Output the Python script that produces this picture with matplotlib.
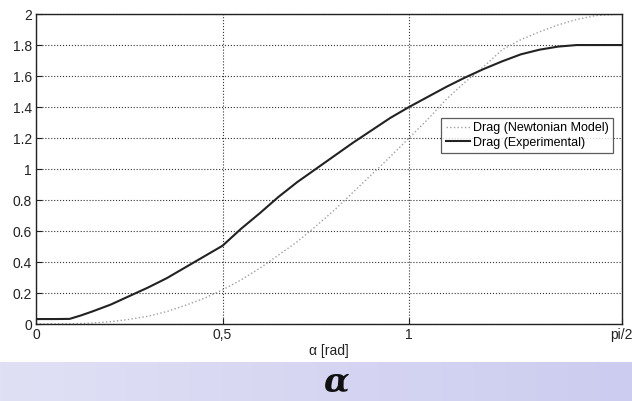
import numpy as np
import matplotlib.pyplot as plt

# values
alpha_newton = [0.0, 0.1, 0.15, 0.2, 0.25, 0.3, 0.35, 0.4, 0.45, 0.5, 0.55, 0.6,
                0.65, 0.7, 0.75, 0.8, 0.85, 0.9, 0.95, 1.0, 1.05, 1.1, 1.15, 1.2,
                1.25, 1.3, 1.35, 1.4, 1.45, 1.5, 1.5708]
drag_newton = [0.0, 0.002, 0.006, 0.015, 0.03, 0.05, 0.08, 0.12, 0.165, 0.22, 0.285, 0.36,
               0.445, 0.53, 0.63, 0.735, 0.85, 0.965, 1.08, 1.2, 1.32, 1.45, 1.56, 1.66,
               1.77, 1.835, 1.885, 1.93, 1.965, 1.99, 2.0]

alpha_exp = [0.0, 0.05, 0.09, 0.12, 0.15, 0.2, 0.25, 0.3, 0.35, 0.4, 0.45, 0.5,
             0.55, 0.6, 0.65, 0.7, 0.75, 0.8, 0.85, 0.9, 0.95, 1.0, 1.05, 1.1,
             1.15, 1.2, 1.25, 1.3, 1.35, 1.4, 1.45, 1.5, 1.5708]
drag_exp = [0.032, 0.032, 0.033, 0.055, 0.08, 0.125, 0.18, 0.235, 0.295, 0.365, 0.435, 0.505,
            0.615, 0.715, 0.82, 0.915, 1.0, 1.085, 1.17, 1.25, 1.33, 1.40, 1.465, 1.53,
            1.59, 1.645, 1.695, 1.74, 1.77, 1.79, 1.80, 1.80, 1.80]

xticks = [0, 0.5, 1, np.pi / 2]
xticklabels = ["0", "0,5", "1", "pi/2"]
yticks = [0, 0.2, 0.4, 0.6, 0.8, 1, 1.2, 1.4, 1.6, 1.8, 2]
yticklabels = ["0", "0.2", "0.4", "0.6", "0.8", "1", "1.2", "1.4", "1.6", "1.8", "2"]

plt.rcParams['font.family'] = ['Liberation Sans', 'DejaVu Sans']

fig = plt.figure(figsize=(6.32, 4.01), dpi=100)

# lavender band at the bottom
band = fig.add_axes([0, 0, 1, 0.097])
grad = np.linspace(0, 1, 256).reshape(1, -1)
left_col = np.array([224, 224, 245]) / 255
right_col = np.array([204, 204, 240]) / 255
img = left_col[None, None, :] * (1 - grad[..., None]) + right_col[None, None, :] * grad[..., None]
band.imshow(img, aspect='auto', extent=[0, 1, 0, 1])
band.set_xlim(0, 1)
band.set_ylim(0, 1)
band.axis('off')
band.text(0.532, 0.5, 'α', fontsize=24, ha='center', va='center',
          color='#111111', family='DejaVu Serif', style='italic', weight='bold')

ax = fig.add_axes([0.057, 0.192, 0.927, 0.773])
ax.plot(alpha_newton, drag_newton, linestyle=':', color='#a0a0a0', linewidth=1.0,
        label='Drag (Newtonian Model)')
ax.plot(alpha_exp, drag_exp, color='#222222', linewidth=1.5,
        label='Drag (Experimental)')

ax.set_xlim(0, np.pi / 2)
ax.set_ylim(0, 2)
ax.set_xticks(xticks)
ax.set_xticklabels(xticklabels)
ax.set_yticks(yticks)
ax.set_yticklabels(yticklabels)
ax.tick_params(direction='in', length=4, width=0.8, labelsize=10, pad=3,
               colors='#222222')
ax.grid(True, linestyle=':', color='#333333', linewidth=0.8)
for s in ax.spines.values():
    s.set_color('#222222')
    s.set_linewidth(1.0)
ax.set_xlabel('α [rad]', fontsize=10, labelpad=1, color='#222222')

leg = ax.legend(loc='upper left', bbox_to_anchor=(0.692, 0.665), fontsize=9,
                frameon=True, fancybox=False, edgecolor='#333333',
                handlelength=1.9, handletextpad=0.3, borderpad=0.35,
                labelspacing=0.2, borderaxespad=0)
leg.get_frame().set_linewidth(0.9)

fig.savefig('out.png', dpi=100)
